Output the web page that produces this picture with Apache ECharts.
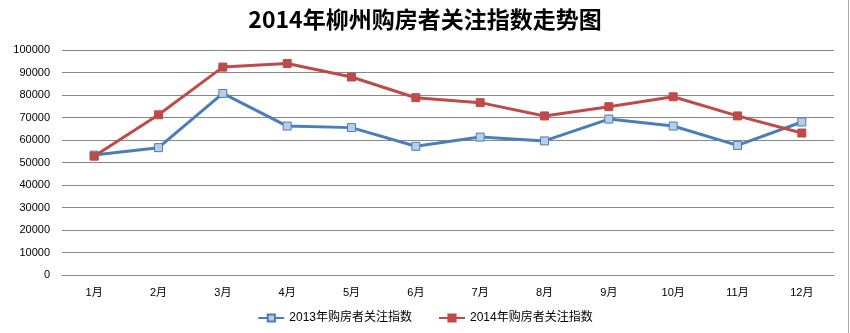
<!DOCTYPE html>
<html><head><meta charset="utf-8">
<script src="https://cdn.jsdelivr.net/npm/echarts@6/dist/echarts.min.js"></script>
<style>html,body{margin:0;padding:0;background:#fff}#c{width:850px;height:333px}</style>
</head><body><div id="c"></div>
<script>
const titleText = '2014年柳州购房者关注指数走势图';
const categories = ['1月','2月','3月','4月','5月','6月','7月','8月','9月','10月','11月','12月'];
const seriesNames = ['2013年购房者关注指数','2014年购房者关注指数'];
const values2013 = [53300, 56600, 80700, 66200, 65500, 57200, 61300, 59600, 69300, 66200, 57600, 68000];
const values2014 = [52800, 71200, 92400, 94000, 88000, 78800, 76600, 70700, 74800, 79200, 70700, 63100];

const font = '"Liberation Sans","Noto Sans CJK SC",sans-serif';
const chart = echarts.init(document.getElementById('c'), null, {renderer:'canvas'});
chart.setOption({
  animation:false,
  title:{text:titleText,left:'center',top:3,
    textStyle:{fontFamily:'"Noto Sans CJK SC",sans-serif',fontWeight:'bold',fontSize:23,color:'#000'}},
  grid:{left:62,right:16,top:50,bottom:58,containLabel:false},
  legend:{bottom:4,left:'center',itemWidth:26,itemHeight:9,itemGap:26,
    textStyle:{fontFamily:font,fontSize:12,color:'#000'},
    data:seriesNames},
  xAxis:{type:'category',data:categories,boundaryGap:true,
    axisLine:{lineStyle:{color:'#888',width:1}},axisTick:{show:false},
    axisLabel:{fontFamily:font,fontSize:11,color:'#000',margin:12}},
  yAxis:{type:'value',min:0,max:100000,interval:10000,
    axisLine:{show:false},axisTick:{show:false},
    axisLabel:{fontFamily:font,fontSize:11,color:'#000',margin:12,formatter:v=>String(v)},
    splitLine:{lineStyle:{color:'#888',width:1}}},
  graphic:[{type:'line',shape:{x1:848.5,y1:0,x2:848.5,y2:333},style:{stroke:'#aaa',lineWidth:1}}],
  series:[
    {name:seriesNames[0],type:'line',data:values2013,symbol:'rect',symbolSize:8,
     lineStyle:{color:'#4a7ebb',width:3},
     itemStyle:{color:'#b9cde5',borderColor:'#4a7ebb',borderWidth:1}},
    {name:seriesNames[1],type:'line',data:values2014,symbol:'rect',symbolSize:8,
     lineStyle:{color:'#be4b48',width:3},
     itemStyle:{color:'#be4b48',borderColor:'#be4b48',borderWidth:1}}
  ]
});
</script></body></html>
